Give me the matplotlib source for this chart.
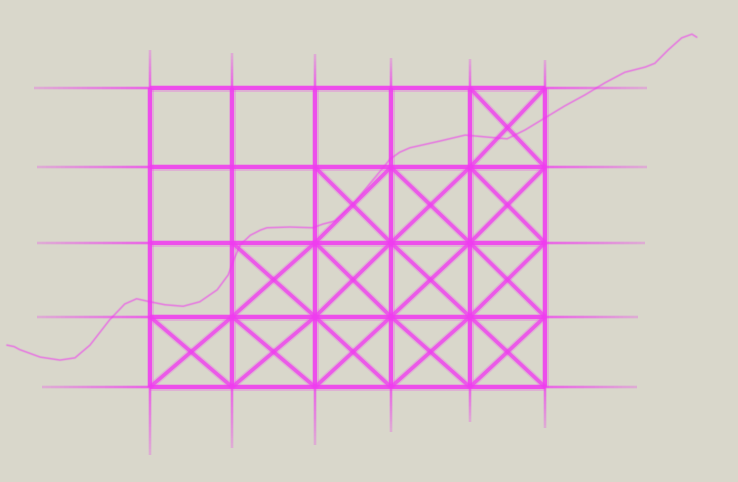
import numpy as np
import matplotlib.pyplot as plt
from matplotlib.collections import LineCollection

# ---- data (grid units: columns along x, rows along y) ----
x_edges = [0.0, 1.04, 2.09, 3.05, 4.05, 5.0]          # vertical grid lines
y_edges = [0.0, 0.94, 1.93, 2.94, 4.0]                # horizontal grid lines
crosses_per_column = [1, 2, 3, 3, 4]                  # stacked X cells per column

# how far each guide line runs past the grid
v_line_bottom = [-0.91, -0.82, -0.78, -0.60, -0.47, -0.55]
v_line_top = [4.51, 4.47, 4.46, 4.40, 4.39, 4.38]
h_line_left = [-1.37, -1.43, -1.43, -1.43, -1.47]
h_line_right = [6.17, 6.18, 6.27, 6.29, 6.29]

# hand-drawn trend curve
curve_x = [-1.81, -1.72, -1.65, -1.39, -1.14, -0.95, -0.76, -0.51, -0.32, -0.17,
           0.0, 0.19, 0.42, 0.63, 0.85, 0.99, 1.06, 1.14, 1.27, 1.40,
           1.48, 1.77, 2.06, 2.19, 2.34, 2.60, 2.79, 2.94, 3.04, 3.16,
           3.29, 3.67, 3.99, 4.30, 4.52, 4.75, 5.0, 5.25, 5.51, 5.76,
           6.01, 6.27, 6.39, 6.56, 6.73, 6.86, 6.92]
curve_y = [0.56, 0.54, 0.50, 0.40, 0.36, 0.39, 0.56, 0.90, 1.11, 1.18,
           1.14, 1.10, 1.08, 1.14, 1.30, 1.50, 1.70, 1.90, 2.03, 2.10,
           2.13, 2.14, 2.13, 2.18, 2.22, 2.48, 2.73, 2.92, 3.05, 3.14,
           3.20, 3.29, 3.37, 3.34, 3.32, 3.44, 3.60, 3.76, 3.91, 4.07,
           4.21, 4.28, 4.33, 4.51, 4.67, 4.72, 4.68]

# ---- style ----
BG = '#d9d7cb'
RGB = (0.94, 0.235, 0.94)
INK = '#f03cf0'

fig = plt.figure(figsize=(7.38, 4.82), dpi=100)
fig.patch.set_facecolor(BG)
ax = fig.add_axes([0, 0, 1, 1])
ax.set_facecolor(BG)
ax.set_xlim(-1.899, 7.443)
ax.set_ylim(-1.271, 5.177)
ax.axis('off')


def chalk(x0, y0, x1, y1, lw, a0, a1, n=24, z=2):
    t = np.linspace(0, 1, n + 1)
    xs = x0 + (x1 - x0) * t
    ys = y0 + (y1 - y0) * t
    segs = [[(xs[i], ys[i]), (xs[i + 1], ys[i + 1])] for i in range(n)]
    alphas = np.linspace(a0, a1, n)
    ax.add_collection(LineCollection(segs, colors=[RGB + (a * 0.3,) for a in alphas],
                                     linewidths=lw * 2.6, zorder=z - 0.1, capstyle='butt'))
    ax.add_collection(LineCollection(segs, colors=[RGB + (a,) for a in alphas],
                                     linewidths=lw * 1.5, zorder=z, capstyle='butt'))


gx0, gx1 = x_edges[0], x_edges[-1]
gy0, gy1 = y_edges[0], y_edges[-1]

# horizontal lines
for y, xl, xr in zip(y_edges, h_line_left, h_line_right):
    chalk(gx0, y, gx1, y, 1.9, 0.85, 0.85, n=4, z=3)
    chalk(gx0, y, xl, y, 1.05, 0.65, 0.22)
    chalk(gx1, y, xr, y, 1.05, 0.65, 0.22)

# vertical lines
for x, yb, yt in zip(x_edges, v_line_bottom, v_line_top):
    chalk(x, gy0, x, gy1, 1.9, 0.85, 0.85, n=4, z=3)
    chalk(x, gy0, x, yb, 1.05, 0.65, 0.22)
    chalk(x, gy1, x, yt, 1.05, 0.65, 0.22)

# crosses
for c, count in enumerate(crosses_per_column):
    xa, xb = x_edges[c], x_edges[c + 1]
    for r in range(count):
        ya, yb = y_edges[r], y_edges[r + 1]
        chalk(xa, yb, xb, ya, 1.75, 0.75, 0.75, n=2, z=3)
        chalk(xa, ya, xb, yb, 1.75, 0.75, 0.75, n=2, z=3)

# trend curve
ax.plot(curve_x, curve_y, color=INK, lw=2.2, alpha=0.12, zorder=4,
        solid_capstyle='round', solid_joinstyle='round')
ax.plot(curve_x, curve_y, color=INK, lw=1.1, alpha=0.45, zorder=4,
        solid_capstyle='round', solid_joinstyle='round')

fig.savefig('out.png', dpi=100, facecolor=BG)
